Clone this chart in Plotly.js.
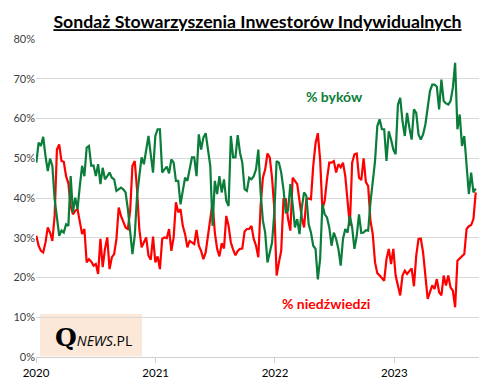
<!DOCTYPE html>
<html>
<head>
<meta charset="utf-8">
<script src="https://cdn.plot.ly/plotly-3.0.1.min.js"></script>
<style>html,body{margin:0;padding:0;background:#fff;}#chart{width:493px;height:389px;}</style>
</head>
<body>
<div id="chart"></div>
<script>
// Weekly AAII sentiment survey readings (%), first reading 2020-01-02
const startDate = '2020-01-02';
const bulls = [
48.9,53.9,53.1,55.4,50.6,46.8,49.9,48.1,39.7,35.5,
30.5,31.8,31.3,33.4,33.0,45.5,36.4,40.1,37.2,43.0,
48.1,45.5,52.7,53.1,48.1,48.2,45.5,48.5,43.5,47.6,
44.7,45.5,46.4,45.1,44.7,41.8,42.2,42.6,42.2,41.4,
37.2,30.5,25.9,30.5,40.5,45.5,50.2,48.5,52.2,55.6,
51.0,46.4,55.6,57.3,57.3,46.4,47.2,47.9,46.2,49.7,
48.9,44.3,44.3,38.4,41.8,45.1,44.3,47.2,50.2,50.2,
45.5,56.0,52.2,55.2,56.3,52.2,48.1,33.0,44.3,41.0,
45.5,41.4,44.7,39.3,38.0,55.6,50.2,50.2,55.8,51.4,
48.9,42.2,41.8,45.1,44.7,45.5,47.2,52.2,41.4,34.3,
31.3,23.8,26.3,28.8,36.4,49.3,48.9,46.4,42.2,36.4,
36.8,43.5,38.4,32.6,34.7,30.9,37.6,41.4,40.5,33.4,
31.3,28.0,27.2,19.5,24.6,38.4,35.9,35.1,32.6,28.0,
31.3,29.7,27.2,23.0,29.7,32.2,31.3,35.5,32.6,27.2,
30.5,35.9,31.2,31.3,31.9,31.8,38.9,44.3,49.3,58.1,
59.8,57.3,57.3,49.3,56.8,54.7,52.2,51.0,63.5,65.2,
59.3,55.6,61.4,57.7,54.7,62.3,61.4,56.0,54.7,56.0,
58.5,62.7,66.9,68.5,68.5,68.0,62.3,69.8,64.4,63.8,
63.5,64.4,67.7,74.0,57.3,61.0,53.1,55.6,48.9,41.0,
46.4,41.4,42.4
];
const bears = [
30.5,28.0,26.7,26.3,28.8,32.6,31.3,29.2,35.5,52.2,
53.5,49.3,49.1,45.5,43.7,38.0,35.9,36.8,37.2,33.8,
30.9,32.2,23.8,24.6,24.0,23.0,23.4,20.9,29.7,22.6,
27.2,30.1,22.1,25.1,25.9,29.7,37.6,35.5,33.8,32.6,
32.2,36.8,48.1,49.3,42.2,32.2,27.6,28.8,30.1,25.5,
24.5,30.3,23.8,25.3,22.1,29.7,30.1,29.9,32.2,26.7,
30.1,38.9,36.4,37.2,33.0,30.9,27.6,29.2,28.8,28.4,
32.0,28.0,26.7,24.6,26.3,30.5,34.5,38.9,31.3,27.2,
25.3,28.6,27.3,35.5,33.0,28.8,27.0,25.6,26.7,27.2,
27.3,31.6,32.2,32.2,33.0,29.7,28.0,25.1,38.0,45.1,
47.2,51.2,50.2,45.1,37.2,20.5,23.8,26.7,39.7,39.7,
34.7,31.8,45.1,44.3,43.5,39.3,35.1,32.6,39.7,39.9,
39.7,48.1,53.7,56.3,49.7,37.2,39.3,44.7,48.9,48.9,
49.3,46.4,48.5,47.7,48.9,45.5,39.7,33.0,48.9,51.0,
51.2,45.1,44.5,50.0,44.0,43.0,34.3,30.9,23.8,21.1,
20.5,19.8,19.2,24.6,27.2,23.4,27.2,20.5,18.0,15.5,
20.5,21.7,20.9,21.7,22.3,17.8,25.5,29.7,29.8,26.3,
20.0,14.6,16.3,18.0,17.1,19.6,16.3,15.5,20.5,18.0,
20.5,17.5,16.7,12.5,24.2,24.8,25.3,25.9,32.2,32.9,
33.2,34.7,41.4
];
const yTicks = [0,10,20,30,40,50,60,70,80];
const yTickText = ['0%','10%','20%','30%','40%','50%','60%','70%','80%'];
const bullLabel = '% byków';
const bearLabel = '% niedźwiedzi';
const titleText = 'Sondaż Stowarzyszenia Inwestorów Indywidualnych';

const dates = bulls.map((_, i) => {
  const d = new Date(startDate + 'T00:00:00Z');
  d.setUTCDate(d.getUTCDate() + 7 * i);
  return d.toISOString().slice(0, 10);
});

const GREEN = '#0b7d3a', RED = '#ff0000';
const FONT = 'Lato, "Open Sans", sans-serif';

const traces = [
  {x: dates, y: bears, type: 'scatter', mode: 'lines', name: 'bears',
   line: {color: RED, width: 2.2}, hoverinfo: 'skip'},
  {x: dates, y: bulls, type: 'scatter', mode: 'lines', name: 'bulls',
   line: {color: GREEN, width: 2.2}, hoverinfo: 'skip'}
];

const layout = {
  width: 493, height: 389,
  margin: {l: 36, r: 14, t: 39, b: 32},
  paper_bgcolor: '#fff', plot_bgcolor: '#fff',
  showlegend: false,
  font: {family: FONT, size: 11, color: '#404040'},
  title: {text: '<b><u>' + titleText + '</u></b>', x: 0.5, xref: 'paper', xanchor: 'center',
          y: 1 - 22/389, yref: 'container', yanchor: 'middle',
          font: {family: FONT, size: 17.7, color: '#000'}},
  xaxis: {type: 'date', range: ['2020-01-01', '2023-09-17'], tickformat: '%Y',
          dtick: 'M12', tick0: '2020-01-01', showgrid: false, zeroline: false,
          showline: true, linecolor: '#d0d0d0', linewidth: 1,
          ticks: 'outside', ticklen: 5, tickcolor: '#d0d0d0',
          tickfont: {family: FONT, size: 11.5, color: '#000'}},
  yaxis: {range: [0, 80], tickmode: 'array', tickvals: yTicks, ticktext: yTickText, showgrid: true,
          gridcolor: '#d9d9d9', gridwidth: 1, zeroline: false, showline: false,
          ticks: '', tickfont: {family: FONT, size: 11, color: '#404040'}},
  shapes: [
    {type: 'rect', xref: 'paper', yref: 'paper', x0: 4/443, x1: 106/443, y0: 0.002, y1: 43/318,
     fillcolor: '#fce8d9', line: {width: 0}, layer: 'below'}
  ],
  annotations: [
    {text: '<b>' + bullLabel + '</b>', xref: 'paper', yref: 'paper', x: (334-36)/443, y: (357-97)/318,
     showarrow: false, xanchor: 'center', yanchor: 'middle', font: {family: FONT, size: 14, color: GREEN}},
    {text: '<b>' + bearLabel + '</b>', xref: 'paper', yref: 'paper', x: (326-36)/443, y: (357-303)/318,
     showarrow: false, xanchor: 'center', yanchor: 'middle', font: {family: FONT, size: 14, color: RED}},
    {text: '<span style="font-family:\'DejaVu Serif\',serif;font-size:25px;font-weight:bold">Q</span><i>NEWS</i>.PL',
     xref: 'paper', yref: 'paper', x: (53-36)/443, y: (357-337)/318, showarrow: false,
     xanchor: 'left', yanchor: 'middle', font: {family: 'Open Sans, sans-serif', size: 14, color: '#000'}}
  ]
};

Plotly.newPlot('chart', traces, layout, {staticPlot: true, displayModeBar: false});
</script>
</body>
</html>
